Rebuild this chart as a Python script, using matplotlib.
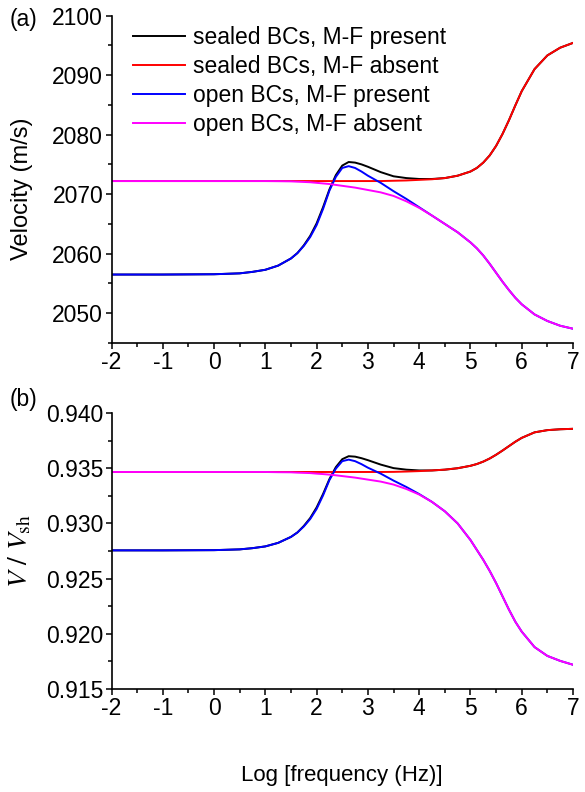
import matplotlib
matplotlib.use("Agg")
import matplotlib.pyplot as plt
from matplotlib.ticker import MultipleLocator, FormatStrFormatter

plt.rcParams['font.family'] = ['Liberation Sans', 'DejaVu Sans']
plt.rcParams['mathtext.fontset'] = 'stix'
plt.rcParams['axes.unicode_minus'] = False

# log10 of frequency (Hz)
log_f = [-2, -1, 0, 0.5, 0.75, 1, 1.25, 1.5, 1.625, 1.75, 1.875, 2, 2.125, 2.25,
         2.375, 2.5, 2.625, 2.75, 2.875, 3, 3.25, 3.5, 3.75, 4, 4.25, 4.5, 4.75,
         5, 5.125, 5.25, 5.375, 5.5, 5.625, 5.75, 5.875, 6, 6.25, 6.5, 6.75, 7]

# (a) phase velocity, m/s
vel_sealed_mf = [2056.5, 2056.5, 2056.55, 2056.7, 2056.95, 2057.3, 2058.0, 2059.2,
                 2060.1, 2061.4, 2063.0, 2065.1, 2067.8, 2070.8, 2073.2, 2074.8,
                 2075.4, 2075.3, 2075.0, 2074.6, 2073.7, 2073.0, 2072.7, 2072.55,
                 2072.55, 2072.7, 2073.1, 2073.8, 2074.4, 2075.3, 2076.5, 2078.1,
                 2080.1, 2082.4, 2084.9, 2087.3, 2091.0, 2093.3, 2094.6, 2095.4]
vel_sealed_nomf = [2072.2, 2072.2, 2072.2, 2072.2, 2072.2, 2072.2, 2072.2, 2072.2,
                   2072.2, 2072.2, 2072.2, 2072.2, 2072.2, 2072.2, 2072.2, 2072.2,
                   2072.2, 2072.2, 2072.2, 2072.2, 2072.2, 2072.25, 2072.3, 2072.4,
                   2072.5, 2072.7, 2073.1, 2073.8, 2074.4, 2075.3, 2076.5, 2078.1,
                   2080.1, 2082.4, 2084.9, 2087.3, 2091.0, 2093.3, 2094.6, 2095.4]
vel_open_mf = [2056.5, 2056.5, 2056.55, 2056.7, 2056.95, 2057.3, 2058.0, 2059.2,
               2060.1, 2061.3, 2062.8, 2064.8, 2067.5, 2070.6, 2072.9, 2074.4,
               2074.7, 2074.4, 2073.8, 2073.1, 2071.9, 2070.5, 2069.2, 2067.8,
               2066.4, 2065.0, 2063.6, 2061.9, 2060.9, 2059.7, 2058.3, 2056.8,
               2055.3, 2053.9, 2052.6, 2051.5, 2049.8, 2048.7, 2047.9, 2047.4]
vel_open_nomf = [2072.2, 2072.2, 2072.2, 2072.2, 2072.2, 2072.2, 2072.18, 2072.15,
                 2072.1, 2072.05, 2072.0, 2071.9, 2071.8, 2071.7, 2071.55, 2071.4,
                 2071.25, 2071.1, 2070.9, 2070.7, 2070.3, 2069.7, 2068.8, 2067.7,
                 2066.4, 2065.0, 2063.6, 2061.9, 2060.9, 2059.7, 2058.3, 2056.8,
                 2055.3, 2053.9, 2052.6, 2051.5, 2049.8, 2048.7, 2047.9, 2047.4]

# (b) velocity normalised by the shear velocity
rat_sealed_mf = [0.92756, 0.92756, 0.92758, 0.92765, 0.92776, 0.92792, 0.92824, 0.92878,
                 0.92918, 0.92977, 0.93049, 0.93145, 0.93266, 0.93402, 0.9351, 0.93582,
                 0.93609, 0.93605, 0.93591, 0.93573, 0.93533, 0.93501, 0.93487, 0.9348,
                 0.9348, 0.93487, 0.935, 0.93522, 0.93538, 0.9356, 0.93588, 0.93622,
                 0.9366, 0.937, 0.9374, 0.93775, 0.93825, 0.93845, 0.93853, 0.93857]
rat_sealed_nomf = [0.93466, 0.93466, 0.93466, 0.93466, 0.93466, 0.93466, 0.93466, 0.93466,
                   0.93466, 0.93466, 0.93466, 0.93466, 0.93466, 0.93466, 0.93466, 0.93466,
                   0.93466, 0.93466, 0.93466, 0.93466, 0.93466, 0.93467, 0.9347, 0.93474,
                   0.9348, 0.93487, 0.935, 0.93522, 0.93538, 0.9356, 0.93588, 0.93622,
                   0.9366, 0.937, 0.9374, 0.93775, 0.93825, 0.93845, 0.93853, 0.93857]
rat_open_mf = [0.92756, 0.92756, 0.92758, 0.92765, 0.92776, 0.92792, 0.92824, 0.92878,
               0.92918, 0.92972, 0.9304, 0.93131, 0.93253, 0.93393, 0.93496, 0.93564,
               0.93578, 0.93564, 0.93537, 0.93505, 0.93451, 0.93388, 0.9333, 0.93266,
               0.93195, 0.9311, 0.93, 0.9285, 0.9276, 0.9267, 0.9257, 0.9246,
               0.9234, 0.9222, 0.9211, 0.9202, 0.9188, 0.918, 0.91755, 0.9172]
rat_open_nomf = [0.93466, 0.93466, 0.93466, 0.93466, 0.93466, 0.93466, 0.93464, 0.93463,
                 0.9346, 0.93458, 0.93456, 0.93451, 0.93447, 0.93442, 0.93436, 0.93429,
                 0.93422, 0.93415, 0.93406, 0.93397, 0.93379, 0.93352, 0.93312, 0.93262,
                 0.93195, 0.9311, 0.93, 0.9285, 0.9276, 0.9267, 0.9257, 0.9246,
                 0.9234, 0.9222, 0.9211, 0.9202, 0.9188, 0.918, 0.91755, 0.9172]

labels = ['sealed BCs, M-F present', 'sealed BCs, M-F absent',
          'open BCs, M-F present', 'open BCs, M-F absent']
colors = ['#000000', '#ff0000', '#0000ff', '#ff00ff']

fig = plt.figure(figsize=(5.85, 7.92), dpi=100)
ax_a = fig.add_axes([0.1906, 0.5669, 0.7889, 0.4135])
ax_b = fig.add_axes([0.1906, 0.1300, 0.7889, 0.3485])

FS = 16.5


def style_axis(ax):
    for side in ('top', 'right'):
        ax.spines[side].set_visible(False)
    for side in ('left', 'bottom'):
        ax.spines[side].set_linewidth(1.2)
    ax.tick_params(which='major', direction='out', length=4.2, width=1.1,
                   labelsize=FS, pad=1.8)
    ax.tick_params(which='minor', direction='out', length=2.6, width=1.1)
    ax.set_xlim(-2, 7)
    ax.xaxis.set_major_locator(MultipleLocator(1))
    ax.xaxis.set_minor_locator(MultipleLocator(0.5))


for ax, series in ((ax_a, (vel_sealed_mf, vel_sealed_nomf, vel_open_mf, vel_open_nomf)),
                   (ax_b, (rat_sealed_mf, rat_sealed_nomf, rat_open_mf, rat_open_nomf))):
    for ys, c, lab in zip(series, colors, labels):
        ax.plot(log_f, ys, color=c, lw=1.4, label=lab, solid_joinstyle='round')
    style_axis(ax)

ax_a.set_ylim(2045, 2100)
ax_a.yaxis.set_major_locator(MultipleLocator(10))
ax_a.yaxis.set_minor_locator(MultipleLocator(5))
ax_a.set_ylabel('Velocity (m/s)', fontsize=17)
ax_a.yaxis.set_label_coords(-0.17, 0.47)

ax_b.set_ylim(0.915, 0.940)
ax_b.yaxis.set_major_locator(MultipleLocator(0.005))
ax_b.yaxis.set_minor_locator(MultipleLocator(0.0025))
ax_b.yaxis.set_major_formatter(FormatStrFormatter('%.3f'))
ax_b.set_ylabel(r'$V\ /\ V_{\mathrm{sh}}$', fontsize=20)
ax_b.yaxis.set_label_coords(-0.17, 0.5)
ax_b.set_xlabel('Log [frequency (Hz)]', fontsize=16)
ax_b.xaxis.set_label_coords(0.5, -0.275)

ax_a.legend(loc='upper left', bbox_to_anchor=(0.046, 0.969), frameon=False,
            fontsize=FS, handlelength=2.28, handletextpad=0.35,
            labelspacing=0.27, borderpad=0, borderaxespad=0)

fig.text(0.040, 0.976, '(a)', fontsize=16.5, ha='center', va='center')
fig.text(0.040, 0.495, '(b)', fontsize=16.5, ha='center', va='center')

fig.savefig('out.png', dpi=100)
